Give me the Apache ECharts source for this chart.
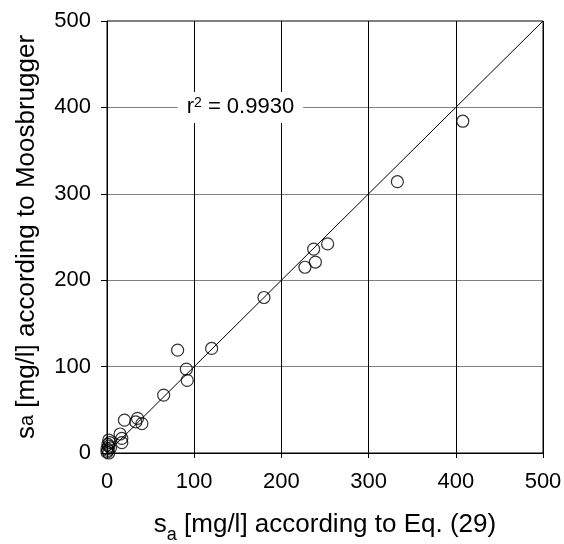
<!DOCTYPE html>
<html>
<head>
<meta charset="utf-8">
<script src="https://cdn.jsdelivr.net/npm/echarts@6/dist/echarts.min.js"></script>
<style>
html,body{margin:0;padding:0;background:#fff;}
#chart{width:564px;height:544px;}
</style>
</head>
<body>
<div id="chart"></div>
<script>
// Data
const xValues = [408, 333, 253, 237, 239, 227, 180, 120, 81, 91, 92, 65, 35, 40, 33, 20, 15, 17, 17, 2, 3, 1, 2, 0, 1, 0, 2, 4];
const yValues = [384, 314, 242, 236, 221, 215, 180, 121, 119, 97, 84, 67, 40, 34, 36, 38, 22, 17, 12, 15, 12, 10, 8, 5, 3, 1, 0, 6];
const axisTicks = [0, 100, 200, 300, 400, 500];
const identityLine = [[0, 0], [500, 500]];
const r2Text = '0.9930';
const r2Anchor = [153, 400];

const points = xValues.map((x, i) => [x, yValues[i]]);
const FONT = 'Liberation Sans, Arial, sans-serif';

const chart = echarts.init(document.getElementById('chart'), null, {renderer: 'canvas'});
chart.setOption({
  backgroundColor: '#fff',
  animation: false,
  grid: {
    left: 107, right: 21, top: 21, bottom: 91,
    containLabel: false, outerBoundsMode: 'none',
    show: true, borderColor: '#000', borderWidth: 1, backgroundColor: 'transparent'
  },
  xAxis: {
    type: 'value', min: axisTicks[0], max: axisTicks[axisTicks.length - 1], interval: 100,
    axisLine: {show: true, onZero: false, lineStyle: {color: '#000', width: 1}},
    axisTick: {show: true, length: 5, inside: false, lineStyle: {color: '#000'}},
    splitLine: {show: true, lineStyle: {color: '#000', width: 1}},
    axisLabel: {color: '#000', fontSize: 22, fontFamily: FONT, margin: 18},
    name: '{t|s}{sub|a}{t| [mg/l] according to Eq. (29)}',
    nameLocation: 'middle', nameGap: 59,
    nameTextStyle: {
      rich: {
        t: {fontSize: 26, lineHeight: 30, verticalAlign: 'top', fontFamily: FONT, color: '#000'},
        sub: {fontSize: 18, lineHeight: 32, verticalAlign: 'bottom', fontFamily: FONT, color: '#000'}
      }
    }
  },
  yAxis: {
    type: 'value', min: axisTicks[0], max: axisTicks[axisTicks.length - 1], interval: 100,
    axisLine: {show: true, onZero: false, lineStyle: {color: '#000', width: 1}},
    axisTick: {show: true, length: 6, inside: false, lineStyle: {color: '#000'}},
    splitLine: {show: true, lineStyle: {color: '#808080', width: 1}},
    axisLabel: {color: '#000', fontSize: 22, fontFamily: FONT, margin: 16},
    name: '{t|s}{sm|a}{t| [mg/l] according to Moosbrugger}',
    nameLocation: 'middle', nameGap: 67, nameRotate: 90,
    nameTextStyle: {
      rich: {
        t: {fontSize: 26, fontFamily: FONT, color: '#000'},
        sm: {fontSize: 20, fontFamily: FONT, color: '#000'}
      }
    }
  },
  series: [
    {
      type: 'line',
      data: identityLine,
      symbol: 'none',
      lineStyle: {color: '#000', width: 1},
      silent: true,
      z: 3,
      markPoint: {
        symbol: 'rect', symbolSize: 0,
        data: [{coord: r2Anchor}],
        label: {
          show: true, position: 'inside',
          formatter: '{a|r}{s|2}{a| = ' + r2Text + '}',
          backgroundColor: '#fff',
          padding: [4, 9],
          rich: {
            a: {fontSize: 22, fontFamily: FONT, color: '#000'},
            s: {fontSize: 14, fontFamily: FONT, color: '#000', verticalAlign: 'top', padding: [0, 0, 9, 0]}
          }
        }
      }
    },
    {
      type: 'scatter',
      data: points,
      symbol: 'circle',
      symbolSize: 12,
      itemStyle: {color: 'rgba(0,0,0,0)', borderColor: '#000', borderWidth: 1.2},
      z: 4
    }
  ]
});
</script>
</body>
</html>
